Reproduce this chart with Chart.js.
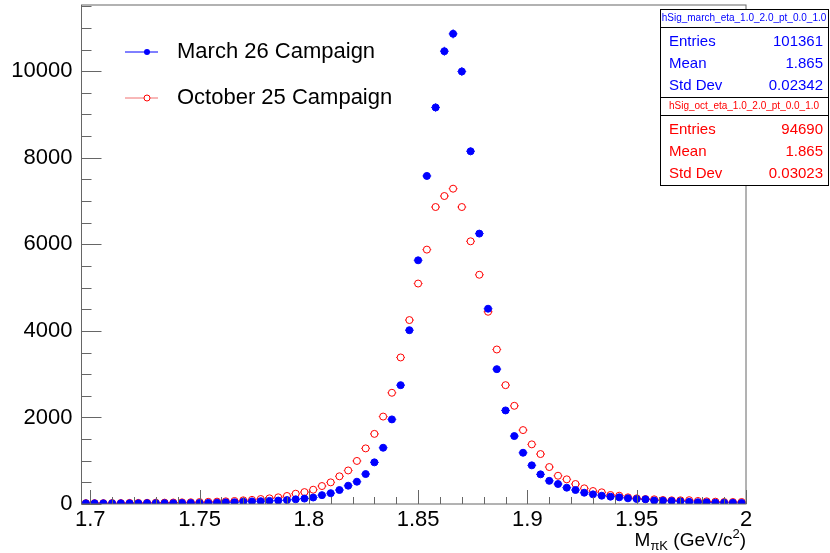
<!DOCTYPE html>
<html>
<head>
<meta charset="utf-8">
<script src="https://cdn.jsdelivr.net/npm/chart.js@4"></script>
<style>
  html, body { margin: 0; padding: 0; background: #fff; }
  #wrap { width: 830px; height: 553px; }
</style>
</head>
<body>
<div id="wrap"><canvas id="massChart" width="830" height="553"></canvas></div>
<script>
const FONT = '"Liberation Sans", Arial, Helvetica, sans-serif';

// Histogram binning (GeV/c^2)
const binLow = 1.696;
const binHigh = 2.0;
const binWidth = 0.004;

// Bin contents, 76 bins each
const marchCounts = [
  15, 15, 15, 15, 15, 15, 15, 20, 20, 20,
  20, 23, 23, 23, 25, 31, 38, 40, 54, 60,
  65, 72, 80, 90, 108, 125, 150, 205, 250, 323,
  423, 515, 692, 962, 1300, 1955, 2746, 4016, 5631, 7580,
  9163, 10462, 10864, 9994, 8150, 6248, 4512, 3116, 2162, 1570,
  1184, 893, 685, 535, 462, 377, 323, 261, 223, 192,
  169, 154, 131, 115, 108, 80, 77, 69, 62, 50,
  40, 38, 31, 31, 28, 23
];
const octCounts = [
  20, 20, 20, 22, 22, 25, 25, 28, 30, 32,
  35, 38, 40, 45, 50, 55, 62, 70, 85, 95,
  115, 131, 154, 185, 238, 275, 330, 415, 500, 640,
  775, 995, 1285, 1620, 2020, 2570, 3386, 4250, 5094, 5878,
  6862, 7116, 7286, 6862, 6070, 5297, 4442, 3570, 2746, 2269,
  1708, 1378, 1154, 854, 653, 570, 462, 362, 300, 270,
  208, 192, 154, 131, 115, 108, 92, 85, 85, 88,
  70, 62, 54, 46, 46, 46
];

const xTicks = [1.7, 1.75, 1.8, 1.85, 1.9, 1.95, 2.0];
const yTicks = [0, 2000, 4000, 6000, 8000, 10000];
const yMax = 11530;

const seriesNames = ["March 26 Campaign", "October 25 Campaign"];
const seriesColors = ["#0000ff", "#ff0000"];
const statsTitles = ["hSig_march_eta_1.0_2.0_pt_0.0_1.0", "hSig_oct_eta_1.0_2.0_pt_0.0_1.0"];
const statsEntries = ["101361", "94690"];
const statsMean = ["1.865", "1.865"];
const statsStdDev = ["0.02342", "0.03023"];

const markerR = 3.5;

function toPoints(counts) {
  return counts.map((c, i) => ({ x: binLow + binWidth * (i + 0.5), y: c }));
}

// error bars (bin width horizontally, sqrt(N) vertically), kept outside the marker like ROOT
const errorBars = {
  id: "errorBars",
  beforeDatasetsDraw(chart) {
    const { ctx, scales: { x, y } } = chart;
    ctx.save();
    ctx.lineWidth = 1;
    chart.data.datasets.forEach(ds => {
      ctx.strokeStyle = ds.borderColor;
      ctx.beginPath();
      ds.data.forEach(p => {
        const px = x.getPixelForValue(p.x);
        const py = y.getPixelForValue(p.y);
        const x0 = x.getPixelForValue(p.x - binWidth / 2);
        const x1 = x.getPixelForValue(p.x + binWidth / 2);
        if (px - x0 > markerR) {
          ctx.moveTo(x0, py); ctx.lineTo(px - markerR, py);
          ctx.moveTo(px + markerR, py); ctx.lineTo(x1, py);
        }
        const e = Math.sqrt(p.y);
        const yTop = y.getPixelForValue(p.y + e);
        const yBot = y.getPixelForValue(p.y - e);
        if (py - yTop > markerR) {
          ctx.moveTo(px, yTop); ctx.lineTo(px, py - markerR);
          ctx.moveTo(px, py + markerR); ctx.lineTo(px, yBot);
        }
      });
      ctx.stroke();
    });
    ctx.restore();
  }
};

// ROOT-style frame, inner ticks, legend, stats boxes and axis title
const rootDecor = {
  id: "rootDecor",
  afterDraw(chart) {
    const { ctx, chartArea: a, scales: { x, y } } = chart;
    ctx.save();

    // frame
    ctx.strokeStyle = "#666";
    ctx.lineWidth = 1;
    ctx.strokeRect(a.left, a.top, a.right - a.left, a.bottom - a.top);

    // x ticks
    ctx.beginPath();
    for (let k = 0; k <= 30; k++) {
      const v = 1.7 + k * 0.01;
      const px = Math.round(x.getPixelForValue(v)) + 0.5;
      const len = k % 5 === 0 ? 14 : 7;
      ctx.moveTo(px, a.bottom);
      ctx.lineTo(px, a.bottom - len);
    }
    // y ticks
    for (let v = 0; v <= yMax; v += 500) {
      const py = Math.round(y.getPixelForValue(v)) + 0.5;
      const len = v % 2000 === 0 ? 20 : 10;
      ctx.moveTo(a.left, py);
      ctx.lineTo(a.left + len, py);
    }
    ctx.stroke();

    // legend
    ctx.font = "22px " + FONT;
    ctx.textBaseline = "middle";
    ctx.textAlign = "left";
    const legY = [52, 98];
    seriesNames.forEach((name, i) => {
      ctx.strokeStyle = i === 0 ? seriesColors[0] : "#f07070";
      ctx.lineWidth = 1;
      ctx.beginPath();
      ctx.moveTo(125, legY[i]);
      ctx.lineTo(158, legY[i]);
      ctx.stroke();
      ctx.beginPath();
      ctx.arc(147, legY[i], 3, 0, Math.PI * 2);
      if (i === 0) { ctx.fillStyle = seriesColors[0]; ctx.fill(); }
      else { ctx.fillStyle = "#fff"; ctx.fill(); ctx.strokeStyle = seriesColors[1]; ctx.stroke(); }
      ctx.fillStyle = "#000";
      ctx.fillText(name, 177, legY[i]);
    });

    // stats boxes
    const bx = 660, bw = 168, bh = 88;
    [9, 97].forEach((top, i) => {
      ctx.fillStyle = "#fff";
      ctx.fillRect(bx, top, bw, bh);
      ctx.strokeStyle = "#000";
      ctx.lineWidth = 1;
      ctx.strokeRect(bx + 0.5, top + 0.5, bw, bh);
      ctx.beginPath();
      ctx.moveTo(bx, top + 18.5);
      ctx.lineTo(bx + bw, top + 18.5);
      ctx.stroke();
      ctx.fillStyle = seriesColors[i];
      ctx.font = "10px " + FONT;
      ctx.textAlign = "center";
      ctx.fillText(statsTitles[i], bx + bw / 2, top + 9.5);
      ctx.font = "15px " + FONT;
      const rows = [["Entries", statsEntries[i]], ["Mean", statsMean[i]], ["Std Dev", statsStdDev[i]]];
      rows.forEach((r, j) => {
        const ry = top + 33 + j * 22;
        ctx.textAlign = "left";
        ctx.fillText(r[0], bx + 9, ry);
        ctx.textAlign = "right";
        ctx.fillText(r[1], bx + bw - 5, ry);
      });
    });

    // x axis title: M_{piK} (GeV/c^2), right aligned
    ctx.fillStyle = "#000";
    ctx.textAlign = "left";
    ctx.textBaseline = "alphabetic";
    const parts = [
      { t: "M", f: 19, dy: 0 },
      { t: "\u03c0K", f: 13, dy: 4 },
      { t: " (GeV/c", f: 19, dy: 0 },
      { t: "2", f: 13, dy: -8 },
      { t: ")", f: 19, dy: 0 }
    ];
    let total = 0;
    parts.forEach(p => { ctx.font = p.f + "px " + FONT; p.w = ctx.measureText(p.t).width; total += p.w; });
    let cx = a.right - total;
    parts.forEach(p => {
      ctx.font = p.f + "px " + FONT;
      ctx.fillText(p.t, cx, 546 + p.dy);
      cx += p.w;
    });

    ctx.restore();
  }
};

new Chart(document.getElementById("massChart"), {
  type: "scatter",
  data: {
    datasets: [
      {
        label: seriesNames[0],
        data: toPoints(marchCounts),
        borderColor: seriesColors[0],
        backgroundColor: seriesColors[0],
        pointRadius: markerR,
        pointBorderWidth: 1
      },
      {
        label: seriesNames[1],
        data: toPoints(octCounts),
        borderColor: seriesColors[1],
        backgroundColor: "rgba(255,255,255,0)",
        pointRadius: markerR,
        pointBorderWidth: 1
      }
    ]
  },
  options: {
    responsive: false,
    animation: false,
    devicePixelRatio: 1,
    layout: { padding: { top: 4, right: 84, left: 0, bottom: 0 } },
    plugins: { legend: { display: false }, tooltip: { enabled: false } },
    scales: {
      x: {
        type: "linear",
        min: binLow,
        max: binHigh,
        grid: { display: false, drawTicks: false },
        border: { display: false },
        afterBuildTicks: s => { s.ticks = xTicks.map(v => ({ value: v })); },
        afterFit: s => { s.height = 49; s.paddingLeft = 0; s.paddingRight = 0; },
        ticks: {
          autoSkip: false,
          maxRotation: 0,
          padding: 3,
          color: "#000",
          font: { family: FONT, size: 22 },
          callback: v => String(parseFloat(v.toFixed(3)))
        }
      },
      y: {
        min: 0,
        max: yMax,
        grid: { display: false, drawTicks: false },
        border: { display: false },
        afterBuildTicks: s => { s.ticks = yTicks.map(v => ({ value: v })); },
        afterFit: s => { s.width = 81.5; s.paddingTop = 0; s.paddingBottom = 0; },
        ticks: {
          padding: 9,
          color: "#000",
          font: { family: FONT, size: 22 },
          callback: v => String(v)
        }
      }
    }
  },
  plugins: [errorBars, rootDecor]
});
</script>
</body>
</html>
